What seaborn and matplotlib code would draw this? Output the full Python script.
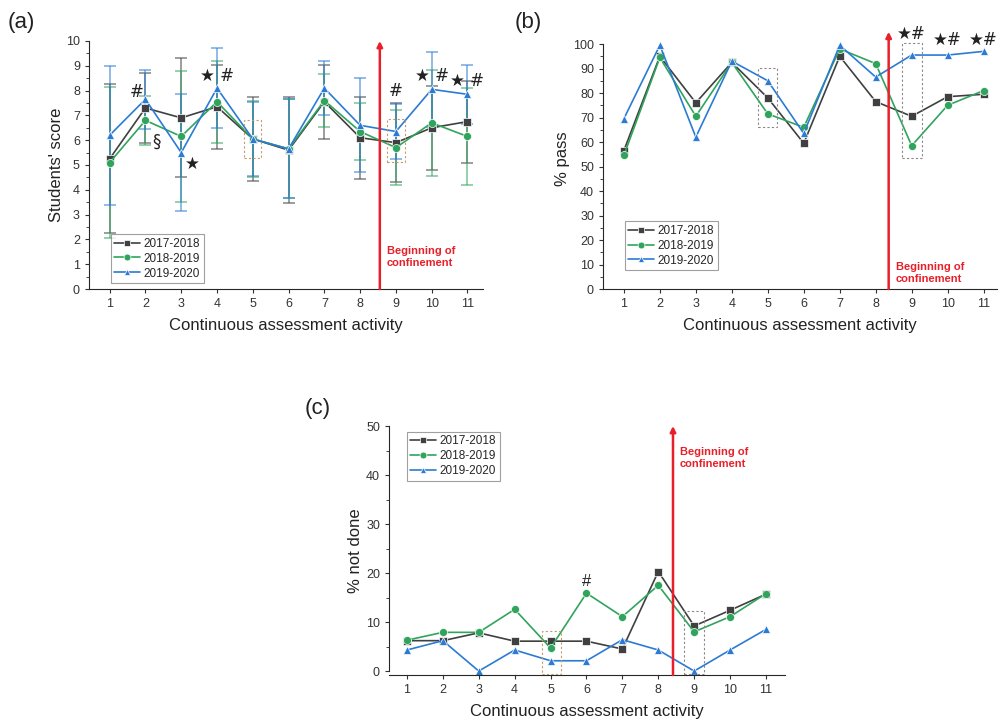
import matplotlib
matplotlib.use("Agg")
from matplotlib import pyplot as plt
from matplotlib.patches import Rectangle
from matplotlib.ticker import MultipleLocator, FixedLocator
import pandas as pd
import seaborn as sns

activities = list(range(1, 12))
years = ["2017-2018", "2018-2019", "2019-2020"]

# (a) mean score and SD per activity
score_1718 = [5.25, 7.3, 6.9, 7.35, 6.05, 5.6, 7.55, 6.1, 5.9, 6.5, 6.75]
score_1819 = [5.1, 6.8, 6.15, 7.55, 6.05, 5.65, 7.6, 6.35, 5.7, 6.7, 6.15]
score_1920 = [6.2, 7.65, 5.5, 8.1, 6.05, 5.65, 8.1, 6.6, 6.35, 8.05, 7.85]
sd_1718 = [3.0, 1.4, 2.4, 1.7, 1.7, 2.15, 1.5, 1.65, 1.6, 1.7, 1.65]
sd_1819 = [3.05, 1.0, 2.65, 1.65, 1.55, 2.0, 1.05, 1.15, 1.5, 2.15, 1.95]
sd_1920 = [2.8, 1.2, 2.37, 1.6, 1.5, 2.0, 1.1, 1.9, 1.1, 1.5, 1.2]

# (b) % pass
pass_1718 = [56.5, 95, 76, 92.5, 78, 59.5, 95, 76.5, 70.5, 78.5, 79.5]
pass_1819 = [54.5, 94.5, 70.5, 92.5, 71.5, 66, 98, 92, 58.5, 75, 81]
pass_1920 = [69.5, 99.5, 62, 93, 85, 63.5, 99.5, 86.5, 95.5, 95.5, 97]

# (c) % not done
nd_1718 = [6.2, 6.2, 7.8, 6.1, 6.1, 6.1, 4.5, 20.3, 9.2, 12.4, 15.7]
nd_1819 = [6.3, 7.9, 7.9, 12.6, 4.7, 15.9, 11.1, 17.5, 8.0, 11.1, 15.8]
nd_1920 = [4.3, 6.2, 0.0, 4.3, 2.1, 2.1, 6.4, 4.3, 0.0, 4.3, 8.5]

colors = ["#404040", "#30a45c", "#2b7bd4"]
markers = ["s", "o", "^"]


def long_df(series):
    rows = []
    for year, vals in zip(years, series):
        for a, v in zip(activities, vals):
            rows.append({"activity": a, "value": v, "year": year})
    return pd.DataFrame(rows)


sns.set_style("ticks")
plt.rcParams["font.family"] = ["Liberation Sans", "DejaVu Sans"]
fig = plt.figure(figsize=(9.99, 7.24), dpi=100)

ax_a = fig.add_axes([0.089, 0.6008, 0.394, 0.3426])
ax_b = fig.add_axes([0.6036, 0.6008, 0.394, 0.3587])
ax_c = fig.add_axes([0.3894, 0.0677, 0.3964, 0.3439])


def draw(ax, series, legend_loc, legend_anchor, ylabel, ylabelpad):
    df = long_df(series)
    sns.lineplot(
        data=df, x="activity", y="value", hue="year", style="year",
        palette=colors, markers=markers, dashes=False, markersize=5.8,
        markeredgewidth=0.5, linewidth=1.2, ax=ax,
    )
    leg = ax.legend(
        loc=legend_loc, bbox_to_anchor=legend_anchor, fontsize=8.5,
        frameon=True, fancybox=False, edgecolor="#888888",
        handlelength=2.2, handletextpad=0.3, borderpad=0.3,
        labelspacing=0.25, markerscale=0.85,
    )
    leg.get_frame().set_linewidth(0.8)
    ax.set_xticks(activities)
    ax.set_xlabel("Continuous assessment activity", fontsize=12,
                  color="#222222", labelpad=6)
    ax.set_ylabel(ylabel, fontsize=12, color="#222222", labelpad=ylabelpad)
    ax.tick_params(labelsize=9, colors="#333333", length=3)
    ax.tick_params(which="minor", length=2)
    sns.despine(ax=ax)


def dashed_box(ax, x0, x1, y0, y1, color="#888888"):
    ax.add_patch(Rectangle((x0, y0), x1 - x0, y1 - y0, fill=False,
                           ls=(0, (2, 2)), lw=0.8, ec=color, zorder=5))


def arrow(ax, x, y0, y1):
    ax.annotate("", xy=(x, y1), xytext=(x, y0),
                arrowprops=dict(arrowstyle="-|>", color="#e8202a", lw=1.8,
                                mutation_scale=8, shrinkA=0, shrinkB=0))


# (a)
for vals, sds, c in zip([score_1718, score_1819, score_1920],
                        [sd_1718, sd_1819, sd_1920], colors):
    ax_a.errorbar(activities, vals, yerr=sds, fmt="none", ecolor=c,
                  alpha=0.6, capsize=4, elinewidth=1.2, capthick=1.2)
draw(ax_a, [score_1718, score_1819, score_1920], "lower left", (0.04, 0.0),
     "Students' score", 1)
ax_a.set_xlim(0.42, 11.42)
ax_a.set_ylim(0, 10)
ax_a.yaxis.set_major_locator(MultipleLocator(1))
ax_a.yaxis.set_minor_locator(MultipleLocator(0.5))
arrow(ax_a, 8.55, 0, 10)
ax_a.text(8.75, 1.3, "Beginning of\nconfinement", color="#e8202a",
          fontsize=8, fontweight="bold", va="center", linespacing=1.3)
dashed_box(ax_a, 4.75, 5.23, 5.3, 6.8, "#c89a6a")
dashed_box(ax_a, 8.75, 9.25, 5.13, 6.87, "#c89a6a")
star_a = [(1.75, 7.95, "#"), (2.3, 5.95, "§"), (3.3, 5.05, "★"),
          (4.0, 8.6, "★ #"), (9.0, 8.0, "#"), (10.0, 8.6, "★ #"),
          (11.0, 8.4, "★ #")]
for x, y, s in star_a:
    ax_a.text(x, y, s, ha="center", va="center", fontsize=12, color="#222222",
              family=["DejaVu Sans"])

# (b)
draw(ax_b, [pass_1718, pass_1819, pass_1920], "lower left", (0.04, 0.05),
     "% pass", 2)
ax_b.set_xlim(0.42, 11.36)
ax_b.set_ylim(0, 106)
ax_b.spines["left"].set_bounds(0, 100)
ax_b.set_yticks(range(0, 101, 10))
ax_b.yaxis.set_minor_locator(FixedLocator(list(range(5, 100, 10))))
arrow(ax_b, 8.36, 0, 105)
ax_b.text(8.55, 6.5, "Beginning of\nconfinement", color="#e8202a",
          fontsize=8, fontweight="bold", va="center", linespacing=1.3)
dashed_box(ax_b, 4.72, 5.25, 66.1, 90.2)
dashed_box(ax_b, 8.72, 9.3, 53.5, 100.4)
for x, y in [(9.0, 104.2), (10.0, 101.5), (11.0, 101.5)]:
    ax_b.text(x, y, "★#", ha="center", va="center", fontsize=12,
              color="#222222", family=["DejaVu Sans"])

# (c)
draw(ax_c, [nd_1718, nd_1819, nd_1920], "upper left", (0.03, 1.0),
     "% not done", 2)
ax_c.set_xlim(0.5, 11.53)
ax_c.set_ylim(-0.8, 50)
ax_c.spines["left"].set_bounds(0, 50)
ax_c.set_yticks(range(0, 51, 10))
ax_c.yaxis.set_minor_locator(FixedLocator(list(range(5, 50, 10))))
arrow(ax_c, 8.41, -0.8, 50)
ax_c.text(8.6, 43.5, "Beginning of\nconfinement", color="#e8202a",
          fontsize=8, fontweight="bold", va="center", linespacing=1.3)
dashed_box(ax_c, 4.76, 5.29, -0.5, 8.2, "#c89a6a")
dashed_box(ax_c, 8.72, 9.27, -0.5, 12.2)
ax_c.text(6.0, 18.2, "#", ha="center", va="center", fontsize=12,
          color="#222222")

fig.text(0.008, 0.962, "(a)", fontsize=16, color="#222222")
fig.text(0.515, 0.962, "(b)", fontsize=16, color="#222222")
fig.text(0.305, 0.428, "(c)", fontsize=16, color="#222222")

fig.savefig("out.png", dpi=100, facecolor="white")
